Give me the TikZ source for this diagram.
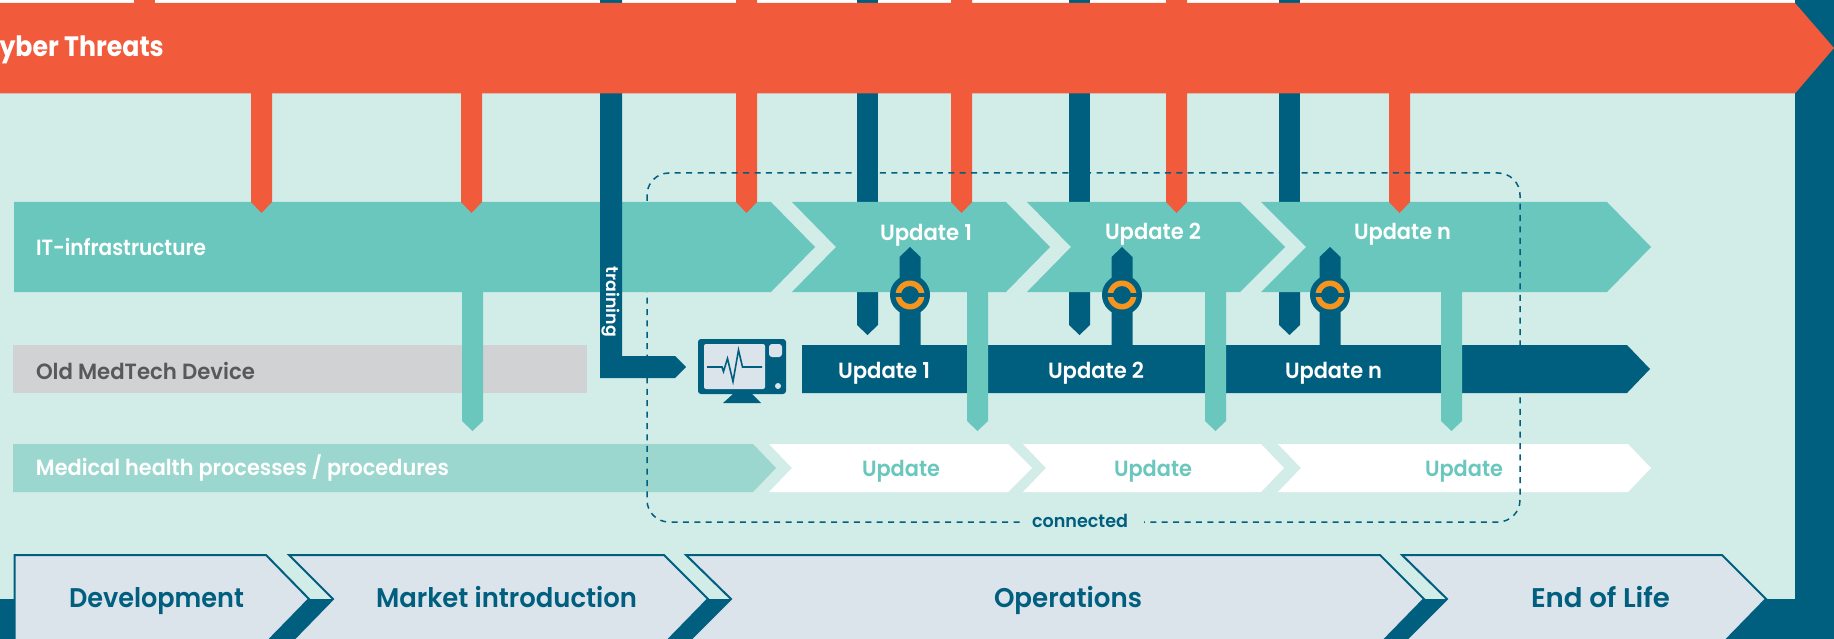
\documentclass[tikz,border=0pt]{standalone}
\usepackage{fontspec}
\setmainfont{Poppins}[UprightFont=* SemiBold,BoldFont=* Bold]
\definecolor{threat}{HTML}{F15A3A}
\definecolor{itteal}{HTML}{6AC7BD}
\definecolor{deep}{HTML}{005F7F}
\definecolor{mint}{HTML}{D2ECE8}
\definecolor{medteal}{HTML}{9BD7CF}
\definecolor{phase}{HTML}{DBE3EB}
\definecolor{ringor}{HTML}{F7941E}
\definecolor{oldgrey}{HTML}{D1D2D4}
\definecolor{oldtext}{HTML}{58595B}
\newcommand\fitw[2]{\sbox0{#2}\pgfmathsetmacro\myratio{#1/\wd0}\scalebox{\myratio}[1]{\usebox0}}
% chevron: fill style, x left, x notch, x right, x tip, y top, y mid, y bottom
\newcommand\chev[8]{\path[#1] (#2,#6) -- (#4,#6) -- (#5,#7) -- (#4,#8) -- (#2,#8) -- (#3,#7) -- cycle;}
% stub pointing down: colour, x left, x right, y top, y shoulder, y tip
\newcommand\stub[6]{\fill[#1] (#2,#4) -- (#3,#4) -- (#3,#5) -- ({(#2+#3)/2},#6) -- (#2,#5) -- cycle;}
% update link with sync mark at centre x
\newcommand\sync[1]{%
  \fill[deep] ({#1-10.5},345) -- ({#1-10.5},257) -- (#1,247) -- ({#1+10.5},257) -- ({#1+10.5},345) -- cycle;
  \fill[deep] (#1,295) circle[radius=20pt];
  \fill[ringor,even odd rule] (#1,295) circle[radius=14.5pt] (#1,295) circle[radius=9pt];
  \fill[deep] ({#1-16},292.6) rectangle ({#1+16},297.4);}
% label: name, centre x, baseline y, width, size, colour, text
\newcommand\lab[7]{\node[inner sep=0pt,anchor=base,text=#6,font=\fontsize{#5}{#5}\selectfont] (#1) at (#2,#3) {\fitw{#4pt}{#7}};}
\begin{document}
\begin{tikzpicture}[x=1pt,y=-1pt,line join=miter]
\useasboundingbox (0,0) rectangle (1834,639);
\clip (0,0) rectangle (1834,639);
% backgrounds
\fill[white] (0,0) rectangle (1834,639);
\fill[mint] (0,3) rectangle (1795,599);
\fill[deep] (0,599) rectangle (1834,639);
\fill[deep] (1795,0) rectangle (1834,639);
% dark stubs, broken by the IT bar
\fill[deep] (857,0) rectangle (878,202);
\fill[deep] (1069,0) rectangle (1090,202);
\fill[deep] (1279,0) rectangle (1300,202);
\stub{deep}{857}{878}{292}{325}{335}
\stub{deep}{1069}{1090}{292}{325}{335}
\stub{deep}{1279}{1300}{292}{325}{335}
% old device and medical rows
\fill[oldgrey] (13,345) rectangle (587,393);
\chev{fill=medteal}{13}{13}{753}{776}{444}{468}{492}
\chev{fill=white}{769}{792}{1008}{1032}{444}{468}{492}
\chev{fill=white}{1023}{1046}{1261}{1284}{444}{468}{492}
\chev{fill=white}{1278}{1301}{1628}{1651}{444}{468}{492}
% updates row
\chev{fill=deep}{802}{802}{1627}{1650}{345}{369}{393}
% IT row
\chev{fill=itteal}{14}{14}{771}{815}{202}{247}{292}
\chev{fill=itteal}{792}{836}{1006}{1050}{202}{247}{292}
\chev{fill=itteal}{1027}{1071}{1240}{1285}{202}{247}{292}
\chev{fill=itteal}{1261}{1306}{1607}{1651}{202}{247}{292}
% sync links
\sync{910}
\sync{1122}
\sync{1330}
% teal stubs
\stub{itteal}{462}{483}{291}{421}{431}
\stub{itteal}{967}{988}{291}{421}{431}
\stub{itteal}{1205}{1226}{291}{421}{431}
\stub{itteal}{1441}{1462}{291}{421}{431}
% training arrow
\fill[deep] (600,0) -- (622,0) -- (622,356) -- (675,356) -- (686,367) -- (675,378) -- (600,378) -- cycle;
% monitor
\fill[deep] (723,403) -- (733,394) -- (752,394) -- (761,403) -- cycle;
\fill[deep,rounded corners=3pt] (698,339) rectangle (786,394);
\fill[phase,rounded corners=2pt] (704,344) rectangle (765,389);
\fill[phase,rounded corners=3pt] (769,344) rectangle (782,357);
\fill[phase] (778,386) circle[radius=3pt];
\draw[deep,line width=1.6pt] (707,367) -- (722,367) -- (723.5,371.5) -- (727.5,358.5) -- (733,381.5) -- (738.5,350) -- (742.5,367) -- (762,367);
% orange stubs and bar
\stub{threat}{251}{272}{90}{202}{213}
\stub{threat}{461}{482}{90}{202}{213}
\stub{threat}{736}{757}{0}{202}{213}
\stub{threat}{951}{972}{0}{202}{213}
\stub{threat}{1166}{1187}{0}{202}{213}
\stub{threat}{1389}{1410}{90}{202}{213}
\fill[threat] (134,0) rectangle (155,5);
\fill[threat] (0,3) -- (1795,3) -- (1834,48) -- (1795,93.5) -- (0,93.5) -- cycle;
% connected frame
\draw[deep,line width=1.5pt,dash pattern=on 6pt off 5.4pt,rounded corners=22pt] (647,173) rectangle (1520,522);
\fill[itteal] (640,202) rectangle (655,292);
\node[fill=mint,inner sep=0pt,minimum width=123pt,minimum height=14pt] (connectedgap) at (1082.5,522) {};
% phases
\path[fill=phase,draw=deep,line width=2pt] (14.6,555) -- (266,555) -- (309,599) -- (269,640) -- (14.6,640) -- cycle;
\path[fill=phase,draw=deep,line width=2pt] (289,555) -- (664,555) -- (708,599) -- (668,640) -- (293,640) -- (333,599) -- cycle;
\path[fill=phase,draw=deep,line width=2pt] (686,555) -- (1380,555) -- (1424,599) -- (1384,640) -- (690,640) -- (731,599) -- cycle;
\path[fill=phase,draw=deep,line width=2pt] (1402,555) -- (1722,555) -- (1766,599) -- (1726,640) -- (1406,640) -- (1447,599) -- cycle;
% labels
\node[inner sep=0pt,anchor=base east,text=white,font=\fontsize{28}{28}\selectfont\bfseries] (cyber) at (164,56.5) {\scalebox{0.9}[1]{Cyber Threats}};
\lab{itinfra}{121}{255.5}{170}{22}{white}{IT-infrastructure}
\lab{old}{145.5}{379}{219}{22}{oldtext}{Old MedTech Device}
\lab{medical}{242.5}{475}{413}{22}{white}{Medical health processes / procedures}
\lab{itu1}{926}{240.5}{92}{22}{white}{Update 1}
\lab{itu2}{1153}{240}{96}{22}{white}{Update 2}
\lab{itun}{1402.5}{240}{97}{22}{white}{Update n}
\lab{du1}{884}{378}{92}{22}{white}{Update 1}
\lab{du2}{1096}{378}{96}{22}{white}{Update 2}
\lab{dun}{1333.5}{378}{97}{22}{white}{Update n}
\lab{mu1}{901}{476}{78}{22}{itteal}{Update}
\lab{mu2}{1153}{476}{78}{22}{itteal}{Update}
\lab{mu3}{1464}{476}{78}{22}{itteal}{Update}
\lab{connected}{1080}{527}{96}{18}{deep}{connected}
\node[inner sep=0pt,rotate=-90,text=white,font=\fontsize{17}{17}\selectfont] (training) at (611,302) {\fitw{70pt}{training}};
\lab{dev}{156.5}{607}{175}{27}{deep}{Development}
\lab{market}{506.5}{607}{261}{27}{deep}{Market introduction}
\lab{ops}{1068}{607}{148}{27}{deep}{Operations}
\lab{eol}{1600.5}{607}{139}{27}{deep}{End of Life}
\end{tikzpicture}
\end{document}
